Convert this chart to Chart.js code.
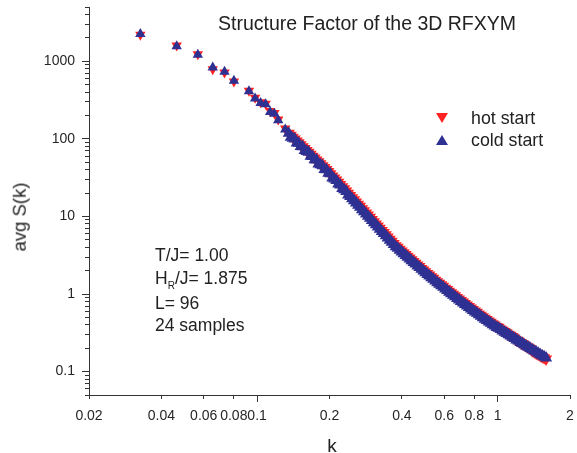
<!DOCTYPE html>
<html>
<head>
<meta charset="utf-8">
<script src="https://cdn.jsdelivr.net/npm/chart.js@4.4.1/dist/chart.umd.min.js"></script>
<style>
  body { margin: 0; background: #fff; }
  #wrap { position: relative; width: 577px; height: 453px; font-family: "Liberation Sans", Arial, sans-serif; color: #222; }
  #wrap canvas { position: absolute; left: 0; top: 0; }
  .t { position: absolute; white-space: nowrap; line-height: 1; }
  .tri-down { position: absolute; width: 0; height: 0; border-left: 6px solid transparent; border-right: 6px solid transparent; border-top: 10px solid #ff2222; }
  .tri-up { position: absolute; width: 0; height: 0; border-left: 6px solid transparent; border-right: 6px solid transparent; border-bottom: 10px solid #2e3192; }
</style>
</head>
<body>
<div id="wrap">
  <canvas id="chart" width="577" height="453"></canvas>

  <div class="t" style="left:218px; top:13.5px; font-size:19.5px;">Structure Factor of the 3D RFXYM</div>

  <div class="tri-down" style="left:436px; top:113px;"></div>
  <div class="t" style="left:471px; top:110px; font-size:17.8px;">hot start</div>
  <div class="tri-up" style="left:436px; top:135px;"></div>
  <div class="t" style="left:471px; top:132px; font-size:17.8px;">cold start</div>

  <div class="t" style="left:155px; top:247px; font-size:17.5px;">T/J= 1.00</div>
  <div class="t" style="left:155px; top:270px; font-size:17.5px;">H<span style="font-size:10px; position:relative; top:5px;">R</span>/J= 1.875</div>
  <div class="t" style="left:155px; top:295px; font-size:17.5px;">L= 96</div>
  <div class="t" style="left:155px; top:317px; font-size:17.5px;">24 samples</div>

  <div class="t" style="left:20px; top:217px; font-size:18.5px; transform:translate(-50%,-50%) rotate(-90deg);">avg S(k)</div>
  <div class="t" style="left:332px; top:436px; font-size:19px; transform:translateX(-50%);">k</div>
</div>

<script>
// wave vectors (shared by both runs); the first 14 are isolated shells, the rest crowd into a band
const k = [
  0.0327, 0.0463, 0.0567, 0.0654, 0.0732, 0.0801, 0.0925, 0.0981, 0.1034, 0.1085,
  0.1133, 0.1180, 0.1224, 0.1309,
  0.1354, 0.1380, 0.1406, 0.1433, 0.1461, 0.1489, 0.1517, 0.1547, 0.1576, 0.1606,
  0.1637, 0.1668, 0.1700, 0.1733, 0.1766, 0.1799, 0.1834, 0.1869, 0.1905, 0.1941,
  0.1978, 0.2016, 0.2055, 0.2094, 0.2134, 0.2175, 0.2216, 0.2259, 0.2302, 0.2346,
  0.2390, 0.2436, 0.2483, 0.2530, 0.2578, 0.2629, 0.2679, 0.2730, 0.2782, 0.2836,
  0.2889, 0.2945, 0.3001, 0.3059, 0.3117, 0.3177, 0.3237, 0.3300, 0.3362, 0.3428,
  0.3492, 0.3560, 0.3627, 0.3698, 0.3767, 0.3841, 0.3913, 0.3990, 0.4064, 0.4144,
  0.4220, 0.4304, 0.4385, 0.4470, 0.4554, 0.4642, 0.4730, 0.4822, 0.4913, 0.5007,
  0.5103, 0.5200, 0.5300, 0.5401, 0.5505, 0.5610, 0.5718, 0.5826, 0.5939, 0.6051,
  0.6168, 0.6286, 0.6407, 0.6528, 0.6653, 0.6781, 0.6911, 0.7039, 0.7178, 0.7312,
  0.7454, 0.7598, 0.7743, 0.7889, 0.8040, 0.8196, 0.8351, 0.8511, 0.8676, 0.8841,
  0.9010, 0.9183, 0.9359, 0.9537, 0.9720, 0.9906, 1.0095, 1.0288, 1.0486, 1.0686,
  1.0889, 1.1099, 1.1311, 1.1527, 1.1749, 1.1973, 1.2201, 1.2435, 1.2674, 1.2915,
  1.3161, 1.3414, 1.3672, 1.3932, 1.4201, 1.4470, 1.4748, 1.5031, 1.5317, 1.5610,
  1.5907
];

const hotS = [
  2200, 1590, 1230, 790, 715, 548, 418, 338, 296, 284,
  228, 216, 178, 136,
  117.7, 111.2, 105.2, 99.4, 93.9, 88.8, 83.9, 79.3, 75.0, 70.9,
  67.0, 63.2, 59.8, 56.5, 53.5, 50.5, 47.7, 45.1, 42.6, 40.3,
  37.9, 35.5, 33.3, 31.3, 29.4, 27.5, 25.8, 24.1, 22.7, 21.2,
  19.9, 18.6, 17.4, 16.4, 15.3, 14.4, 13.5, 12.6, 11.8, 11.1,
  10.4, 9.73, 9.12, 8.57, 8.02, 7.52, 7.05, 6.59, 6.19, 5.81,
  5.44, 5.10, 4.79, 4.48, 4.20, 4.00, 3.78, 3.58, 3.41, 3.23,
  3.07, 2.91, 2.76, 2.63, 2.50, 2.37, 2.26, 2.14, 2.04, 1.94,
  1.84, 1.76, 1.67, 1.60, 1.51, 1.44, 1.38, 1.32, 1.26, 1.19,
  1.14, 1.087, 1.04, 0.991, 0.948, 0.903, 0.864, 0.824, 0.788, 0.754,
  0.721, 0.689, 0.661, 0.632, 0.606, 0.581, 0.555, 0.533, 0.511, 0.488,
  0.469, 0.449, 0.432, 0.414, 0.398, 0.382, 0.373, 0.355, 0.342, 0.328,
  0.316, 0.304, 0.294, 0.283, 0.272, 0.2565, 0.248, 0.238, 0.230, 0.222,
  0.213, 0.206, 0.199, 0.186, 0.179, 0.173, 0.167, 0.161, 0.155, 0.151,
  0.145
];

const coldS = [
  2250, 1560, 1210, 830, 730, 560, 410, 330, 290, 279,
  222, 211, 173, 132,
  117.7, 104.8, 102.1, 99.4, 88.5, 87.9, 79.9, 79.3, 70.6, 68.8,
  67.0, 59.6, 59.3, 53.8, 53.5, 47.5, 46.3, 45.1, 40.2, 39.9,
  36.1, 35.5, 31.3, 30.4, 29.1, 26.2, 25.5, 22.9, 22.0, 21.0,
  18.9, 18.06, 16.9, 15.9, 14.9, 13.95, 13.1, 12.24, 11.5, 10.77,
  10.09, 9.45, 8.85, 8.32, 7.79, 7.30, 6.84, 6.40, 6.01, 5.64,
  5.28, 4.95, 4.65, 4.35, 4.08, 3.88, 3.67, 3.48, 3.31, 3.14,
  2.98, 2.83, 2.68, 2.55, 2.43, 2.30, 2.19, 2.08, 1.98, 1.88,
  1.79, 1.71, 1.62, 1.55, 1.47, 1.40, 1.34, 1.28, 1.22, 1.16,
  1.11, 1.055, 1.01, 0.962, 0.920, 0.877, 0.839, 0.800, 0.765, 0.732,
  0.700, 0.669, 0.642, 0.614, 0.588, 0.564, 0.539, 0.517, 0.496, 0.474,
  0.455, 0.436, 0.419, 0.402, 0.386, 0.371, 0.362, 0.348, 0.335, 0.322,
  0.310, 0.2985, 0.288, 0.277, 0.267, 0.2565, 0.248, 0.238, 0.230, 0.222,
  0.213, 0.206, 0.199, 0.192, 0.185, 0.1786, 0.172, 0.1663, 0.160, 0.1552,
  0.150
];

// axis ticks
const xTicks = [0.02, 0.04, 0.06, 0.08, 0.1, 0.2, 0.4, 0.6, 0.8, 1, 2];
const xLongTicks = [0.1, 1];
const yTicks = [0.1, 1, 10, 100, 1000];
const yMinorTicks = [
  0.05, 0.06, 0.07, 0.08, 0.09,
  0.2, 0.3, 0.4, 0.5, 0.6, 0.7, 0.8, 0.9,
  2, 3, 4, 5, 6, 7, 8, 9,
  20, 30, 40, 50, 60, 70, 80, 90,
  200, 300, 400, 500, 600, 700, 800, 900,
  2000, 3000, 4000, 5000
];

const axisColor = "#333";
const tickFont = { family: "'Liberation Sans', Arial, sans-serif", size: 14 };
// past this k the points crowd into a band and look a bit larger
const denseFrom = 0.132;

function points(ys) {
  return k.map((v, i) => ({ x: v, y: ys[i] }));
}

function setTicks(list) {
  return (scale) => { scale.ticks = list.map(v => ({ value: v })); };
}

function markerSize(c) {
  return c.raw && c.raw.x > denseFrom ? 7 : 6;
}

const ctx = document.getElementById("chart").getContext("2d");

new Chart(ctx, {
  type: "scatter",
  data: {
    datasets: [
      {
        label: "hot start",
        data: points(hotS),
        pointStyle: "triangle",
        rotation: 180,
        radius: markerSize,
        backgroundColor: "#ff2222",
        borderWidth: 0,
        order: 2
      },
      {
        label: "cold start",
        data: points(coldS),
        pointStyle: "triangle",
        radius: markerSize,
        backgroundColor: "#2e3192",
        borderWidth: 0,
        order: 1
      }
    ]
  },
  options: {
    responsive: false,
    animation: false,
    devicePixelRatio: 1,
    events: [],
    layout: { padding: { top: 6, right: 2, bottom: 0, left: 0 } },
    plugins: {
      legend: { display: false },
      tooltip: { enabled: false }
    },
    scales: {
      x: {
        type: "logarithmic",
        position: "bottom",
        weight: 1,
        min: 0.02,
        max: 2,
        afterBuildTicks: setTicks(xTicks),
        afterFit: (s) => { s.height = 58; s.paddingLeft = 0; s.paddingRight = 2; },
        grid: { display: true, drawOnChartArea: false, drawTicks: true, tickLength: 4, tickColor: axisColor },
        border: { display: true, color: axisColor, width: 1 },
        ticks: {
          autoSkip: false, maxRotation: 0, minRotation: 0, padding: 9,
          color: "#262626", font: tickFont,
          callback: (v) => String(v)
        }
      },
      x2: {
        type: "logarithmic",
        position: "bottom",
        weight: 0,
        min: 0.02,
        max: 2,
        afterBuildTicks: setTicks(xLongTicks),
        afterFit: (s) => { s.height = 0; s.paddingLeft = 0; s.paddingRight = 0; },
        grid: { display: true, drawOnChartArea: false, drawTicks: true, tickLength: 7, tickColor: axisColor },
        border: { display: false },
        ticks: { display: false }
      },
      y: {
        type: "logarithmic",
        position: "left",
        weight: 1,
        min: 0.05,
        max: 5000,
        afterBuildTicks: setTicks(yTicks),
        afterFit: (s) => { s.width = 89; s.paddingTop = 0; s.paddingBottom = 0; },
        grid: { display: true, drawOnChartArea: false, drawTicks: true, tickLength: 7, tickColor: axisColor },
        border: { display: true, color: axisColor, width: 1 },
        ticks: {
          autoSkip: false, padding: 7,
          color: "#262626", font: tickFont,
          callback: (v) => String(v)
        }
      },
      y2: {
        type: "logarithmic",
        position: "left",
        weight: 0,
        min: 0.05,
        max: 5000,
        afterBuildTicks: setTicks(yMinorTicks),
        afterFit: (s) => { s.width = 0; s.paddingTop = 0; s.paddingBottom = 0; },
        grid: { display: true, drawOnChartArea: false, drawTicks: true, tickLength: 4, tickColor: axisColor },
        border: { display: false },
        ticks: { display: false }
      }
    }
  }
});
</script>
</body>
</html>
